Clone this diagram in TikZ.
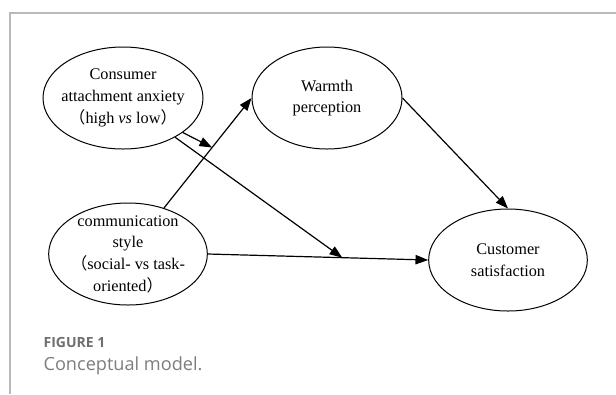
\documentclass[tikz,border=0pt]{standalone}
\usepackage{fontspec}
\setmainfont{Liberation Serif}
\newfontfamily\capfont{Open Sans}
\newfontfamily\cjk{Noto Sans CJK SC}
\usepackage{xcolor}
\usetikzlibrary{calc}
\usetikzlibrary{positioning}
\usetikzlibrary{arrows.meta}
\usetikzlibrary{shapes.geometric}
\definecolor{framegray}{RGB}{185,185,185}
\definecolor{figgray}{RGB}{110,110,110}
\definecolor{capgray}{RGB}{125,125,125}

\begin{document}
\begin{tikzpicture}[->, >={Triangle[length=9.5pt,width=7pt]}, line width=0.9pt, x=0.75pt, y=-0.75pt, font=\fontsize{12.2}{16.3}\selectfont]
    \tikzstyle{var}=[draw=black,ellipse,line width=0.75pt,align=center,inner sep=-6pt,minimum height=76.5pt]
    \tikzstyle{caption}=[anchor=base west,inner sep=0pt]

    \useasboundingbox (0,0) rectangle (616,394);
    \draw[-, draw=framegray, line width=1.1pt] (10,394) -- (10,13) -- (616,13);

    \node[var, minimum width=120pt] (anx) at (123,98) {Consumer\\attachment anxiety\\{\cjk （}high \textit{vs} low{\cjk ）}};
    \node[var, minimum width=112.5pt] (warm) at (327,98) {Warmth\\perception};
    \node[var, minimum width=119pt] (comm) at (128,254) {communication\\style\\{\cjk （}social- vs task-\\oriented{\cjk ）}};
    \node[var, minimum width=119pt] (cust) at (508,260) {Customer\\satisfaction};

    \coordinate (mid1) at ($(comm.52)!0.55!(warm.west)$);
    \coordinate (mid2) at ($(comm.east)!0.61!(cust.west)$);

    \path (comm.52) edge (warm.west);
    \path (comm.east) edge (cust.west);
    \path (warm.east) edge (cust.north);
    \path (anx.-30) edge (mid1);
    \path (anx.-37) edge (mid2);

    \node[caption, text=figgray, font=\capfont\bfseries\fontsize{10.5}{13}\selectfont] (fig) at (43,347) {FIGURE 1};
    \node[caption, text=capgray, font=\capfont\fontsize{13.6}{16}\selectfont] (title) at (43,370) {Conceptual model.};

\end{tikzpicture}
\end{document}
